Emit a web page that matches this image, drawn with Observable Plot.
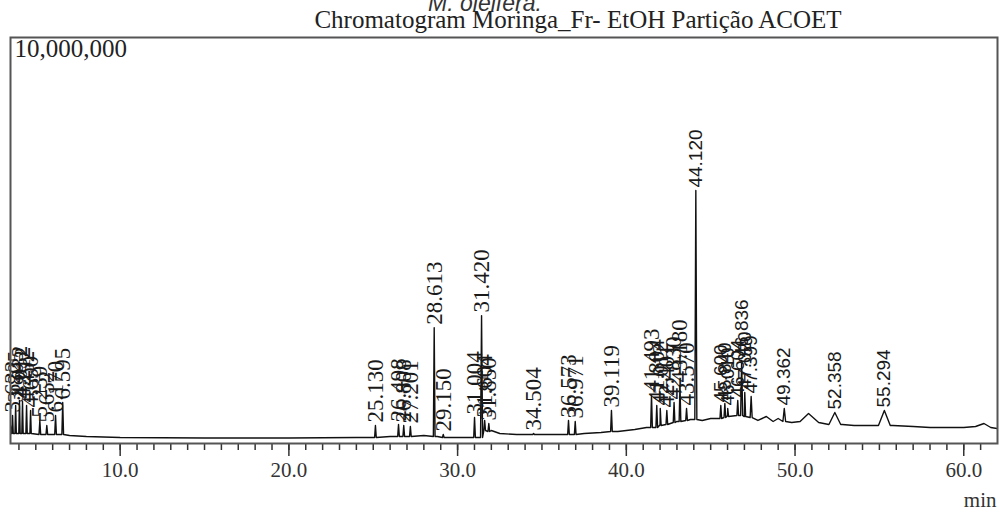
<!DOCTYPE html>
<html><head><meta charset="utf-8">
<script src="https://cdn.jsdelivr.net/npm/d3@7"></script>
<script src="https://cdn.jsdelivr.net/npm/@observablehq/plot@0.6"></script>
<style>
body{margin:0;background:#fff;width:1000px;height:512px;overflow:hidden;}
#head{position:relative;height:30px;}
#sub{position:absolute;left:485px;transform:translateX(-50%);top:-9px;white-space:nowrap;font:italic 23px/25px "Liberation Sans";color:#333;}
#title{position:absolute;left:578px;transform:translateX(-50%);top:7px;white-space:nowrap;font:25px/25px "Liberation Serif";color:#222;}
</style></head>
<body>
<div id="head"><div id="sub">M. oleifera.</div><div id="title">Chromatogram Moringa_Fr- EtOH Partição ACOET</div></div>
<div id="chart"></div>
<script>
// Baseline of the trace (retention time in min, intensity in counts)
const baseTime = [3.5, 3.55, 7.0, 8.0, 10, 15, 20, 24, 25.0, 26.0, 28.0, 28.8, 29.5, 30.8, 32.0, 32.5, 33.5, 35, 36, 37.5, 38.5, 39.5, 40.5, 41.2, 42.0, 43.0, 43.8, 44.5, 45.0, 46.0, 47.0, 47.8, 48.3, 48.7, 49.0, 49.8, 50.3, 50.8, 51.4, 52.0, 52.8, 53.5, 54.8, 55.8, 57, 58, 60, 60.7, 61.2, 61.6, 62];
const baseValue = [443000, 246000, 197000, 172000, 148000, 135000, 135000, 148000, 148000, 172000, 197000, 172000, 148000, 148000, 320000, 246000, 222000, 222000, 222000, 246000, 271000, 296000, 345000, 394000, 468000, 542000, 591000, 567000, 616000, 690000, 665000, 567000, 665000, 542000, 616000, 517000, 542000, 739000, 517000, 468000, 468000, 443000, 443000, 443000, 419000, 394000, 394000, 419000, 493000, 394000, 369000];

// Labelled peaks
const peakTime = [3.622, 3.805, 4.032, 4.212, 4.452, 4.690, 5.239, 5.652, 6.170, 6.595,
  25.130, 26.498, 26.808, 27.201, 28.613, 29.150, 31.004, 31.420, 31.604, 31.850, 34.504, 36.573, 36.971, 39.119,
  41.493, 41.804, 42.012, 42.401, 42.830, 43.180, 43.570, 44.120, 45.600, 45.840, 46.010, 46.604, 46.836, 47.020, 47.399, 49.362, 52.358, 55.294];
const peakValue = [690000, 936000, 1059000, 1034000, 936000, 813000, 567000, 443000, 690000, 1010000,
  443000, 468000, 443000, 419000, 2850000, 222000, 640000, 3150000, 567000, 493000, 246000, 567000, 542000, 813000,
  1200000, 936000, 862000, 813000, 1010000, 1429000, 862000, 6230000, 936000, 985000, 862000, 1059000, 2044000, 1256000, 1158000, 862000, 764000, 813000];
const peakBase = [246000, 246000, 246000, 246000, 246000, 246000, 222000, 222000, 222000, 222000,
  148000, 172000, 172000, 172000, 172000, 148000, 148000, 148000, 320000, 296000, 222000, 222000, 222000, 296000,
  394000, 394000, 443000, 468000, 517000, 542000, 567000, 591000, 616000, 640000, 665000, 690000, 690000, 665000, 640000, 542000, 468000, 443000];
const peakHalfWidth = [0.04, 0.04, 0.04, 0.04, 0.04, 0.04, 0.05, 0.05, 0.05, 0.05,
  0.05, 0.05, 0.05, 0.05, 0.05, 0.05, 0.05, 0.06, 0.05, 0.05, 0.05, 0.05, 0.05, 0.05,
  0.05, 0.05, 0.05, 0.05, 0.05, 0.05, 0.05, 0.06, 0.05, 0.05, 0.05, 0.05, 0.06, 0.05, 0.06, 0.08, 0.35, 0.35];
const peakLabel = ["3.622", "3.805", "4.032", "4.212", "4.452", "4.690", "5.239", "5.652", "6.170", "6.595",
  "25.130", "26.498", "26.808", "27.201", "28.613", "29.150", "31.004", "31.420", "31.604", "31.850", "34.504", "36.573", "36.971", "39.119",
  "41.493", "41.804", "42.012", "42.401", "42.830", "43.180", "43.570", "44.120", "45.600", "45.840", "46.010", "46.604", "46.836", "47.020", "47.399", "49.362", "52.358", "55.294"];

const majorTicks = [10, 20, 30, 40, 50, 60];
const minorTicks = d3.range(4, 62, 1);
const yMaxLabel = "10,000,000";
const xUnit = "min";

const peaks = peakTime.map((t, i) => ({t, v: peakValue[i], base: peakBase[i], hw: peakHalfWidth[i], label: peakLabel[i]}));
const trace = baseTime.map((t, i) => ({t, v: baseValue[i]}))
  .concat(peaks.flatMap(p => [{t: p.t - p.hw, v: p.base}, {t: p.t, v: p.v}, {t: p.t + p.hw, v: p.base}]))
  .sort((a, b) => a.t - b.t);

const chart = Plot.plot({
  width: 1000,
  height: 482,
  marginLeft: 10,
  marginRight: 3,
  marginTop: 7,
  marginBottom: 69,
  x: {domain: [3.5, 62]},
  y: {domain: [0, 10000000], axis: null},
  style: {background: "#fff"},
  marks: [
    Plot.line(trace, {x: "t", y: "v", stroke: "#111", strokeWidth: 1.4, clip: true}),
    Plot.text(peaks.filter(p => p.t < 44), {x: "t", y: "v", text: "label", rotate: -90, textAnchor: "start", lineAnchor: "middle", dy: -3, fontSize: 23, fontFamily: "Liberation Serif", fill: "#1a1a1a"}),
    Plot.text(peaks.filter(p => p.t >= 44), {x: "t", y: "v", text: "label", rotate: -90, textAnchor: "start", lineAnchor: "middle", dy: -3, fontSize: 19, fontFamily: "Liberation Sans", fill: "#1a1a1a"}),
    Plot.axisX({ticks: minorTicks, tickSize: 7, tickFormat: () => "", stroke: "#333", strokeWidth: 1.5, label: null}),
    Plot.axisX({ticks: majorTicks, tickSize: 13, tickPadding: 6, tickFormat: d => d.toFixed(1), stroke: "#333", strokeWidth: 1.5, fontSize: 21, fontFamily: "Liberation Serif", fill: "#333", label: null}),
    Plot.frame({stroke: "#555", strokeWidth: 2}),
    Plot.text([yMaxLabel], {frameAnchor: "top-left", dx: 4, dy: 2, lineAnchor: "top", textAnchor: "start", fontSize: 25, fontFamily: "Liberation Serif", fill: "#222"}),
    Plot.text([xUnit], {frameAnchor: "bottom-right", dx: -1, dy: 57, lineAnchor: "middle", textAnchor: "end", fontSize: 21, fontFamily: "Liberation Serif", fill: "#333"})
  ]
});
document.getElementById("chart").appendChild(chart);
</script>
</body></html>
